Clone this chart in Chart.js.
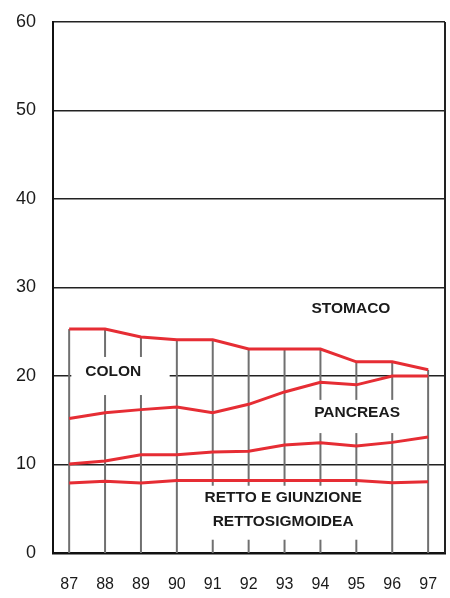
<!DOCTYPE html>
<html>
<head>
<meta charset="utf-8">
<script src="https://cdn.jsdelivr.net/npm/chart.js@4"></script>
<style>
  html,body{margin:0;padding:0;background:#fff;}
  #wrap{width:450px;height:598px;}
</style>
</head>
<body>
<div id="wrap"><canvas id="c" width="450" height="598"></canvas></div>
<script>
// ---- data ----
const years = [87, 88, 89, 90, 91, 92, 93, 94, 95, 96, 97];
const yearLabels = ["87","88","89","90","91","92","93","94","95","96","97"];
const stomaco  = [25.3, 25.3, 24.4, 24.1, 24.1, 23.05, 23.05, 23.05, 21.6, 21.6, 20.7];
const colon    = [15.2, 15.85, 16.2, 16.5, 15.85, 16.8, 18.2, 19.3, 19.0, 20.0, 20.0];
const pancreas = [10.05, 10.4, 11.1, 11.1, 11.4, 11.5, 12.2, 12.45, 12.1, 12.5, 13.1];
const retto    = [7.9, 8.1, 7.9, 8.2, 8.2, 8.2, 8.2, 8.2, 8.2, 7.95, 8.05];
const yTicks   = [0, 10, 20, 30, 40, 50, 60];

const RED = "rgb(230,45,52)";
const FONT = "'Liberation Sans', Arial, Helvetica, sans-serif";

function pts(arr){ return years.map((x,i)=>({x:x, y:arr[i]})); }

const labelBoxes = [
  {lines:["STOMACO"], x:94.85, y:27.6, box:null},
  {lines:["COLON"], x:88.23, y:20.45, box:[87.06, 89.8, 17.85, 22.15]},
  {lines:["PANCREAS"], x:95.02, y:15.8, box:[93.77, 96.28, 13.55, 17.3]},
  {lines:["RETTO E GIUNZIONE","RETTOSIGMOIDEA"], x:92.96, y:6.2, box:[90.5, 95.45, 1.5, 7.6]}
];

const decor = {
  id: "decor",
  beforeDatasetsDraw(chart){
    const {ctx, chartArea:a, scales:{x, y}} = chart;
    ctx.save();
    // right frame line
    ctx.strokeStyle = "#222";
    ctx.lineWidth = 2;
    ctx.beginPath();
    ctx.moveTo(a.right, a.top); ctx.lineTo(a.right, a.bottom);
    ctx.stroke();
    // vertical drop lines from top series to zero
    ctx.strokeStyle = "#707070";
    ctx.lineWidth = 2;
    years.forEach((yr,i)=>{
      const px = x.getPixelForValue(yr);
      ctx.beginPath();
      ctx.moveTo(px, y.getPixelForValue(stomaco[i]));
      ctx.lineTo(px, y.getPixelForValue(0));
      ctx.stroke();
    });
    // white label boxes + text
    labelBoxes.forEach(l=>{
      if(l.box){
        const x0 = x.getPixelForValue(l.box[0]), x1 = x.getPixelForValue(l.box[1]);
        const y0 = y.getPixelForValue(l.box[3]), y1 = y.getPixelForValue(l.box[2]);
        ctx.fillStyle = "#fff";
        ctx.fillRect(x0, y0, x1-x0, y1-y0);
      }
      ctx.fillStyle = "#1a1a1a";
      ctx.font = "bold 15.5px " + FONT;
      ctx.textAlign = "center";
      ctx.textBaseline = "middle";
      const cx = x.getPixelForValue(l.x);
      const cy = y.getPixelForValue(l.y);
      l.lines.forEach((t,k)=>{
        ctx.fillText(t, cx, cy + k*24);
      });
    });
    ctx.restore();
  }
};

new Chart(document.getElementById("c"), {
  type: "line",
  data: {
    datasets: [
      {label:"Stomaco", data: pts(stomaco)},
      {label:"Colon", data: pts(colon)},
      {label:"Pancreas", data: pts(pancreas)},
      {label:"Retto e giunzione rettosigmoidea", data: pts(retto)}
    ].map(d=>Object.assign(d,{borderColor:RED, borderWidth:3, pointRadius:0, tension:0, fill:false}))
  },
  options: {
    responsive: false,
    devicePixelRatio: 1,
    animation: false,
    layout: {padding: {top: 22, right: 5, left: 0, bottom: 0}},
    plugins: {legend:{display:false}, tooltip:{enabled:false}},
    scales: {
      x: {
        type: "linear",
        min: 86.55, max: 97.47,
        afterBuildTicks(s){ s.ticks = years.map(v=>({value:v})); },
        afterFit(s){ s.height = 45; s.paddingLeft = 0; s.paddingRight = 0; },
        grid: {display:false, drawTicks:false},
        border: {display:true, color:"#111", width:2.5},
        ticks: {
          padding: 22,
          autoSkip: false,
          maxRotation: 0,
          color: "#1a1a1a",
          font: {family: FONT, size: 16},
          callback: (v)=> yearLabels[years.indexOf(v)] ?? ""
        }
      },
      y: {
        min: 0, max: 60,
        afterBuildTicks(s){ s.ticks = yTicks.map(v=>({value:v})); },
        afterFit(s){ s.width = 53; s.paddingTop = 0; s.paddingBottom = 0; },
        grid: {color:"#222", lineWidth:1.5, drawTicks:false},
        border: {display:true, color:"#111", width:2},
        ticks: {
          padding: 17,
          color: "#1a1a1a",
          font: {family: FONT, size: 18}
        }
      }
    }
  },
  plugins: [decor]
});
</script>
</body>
</html>
